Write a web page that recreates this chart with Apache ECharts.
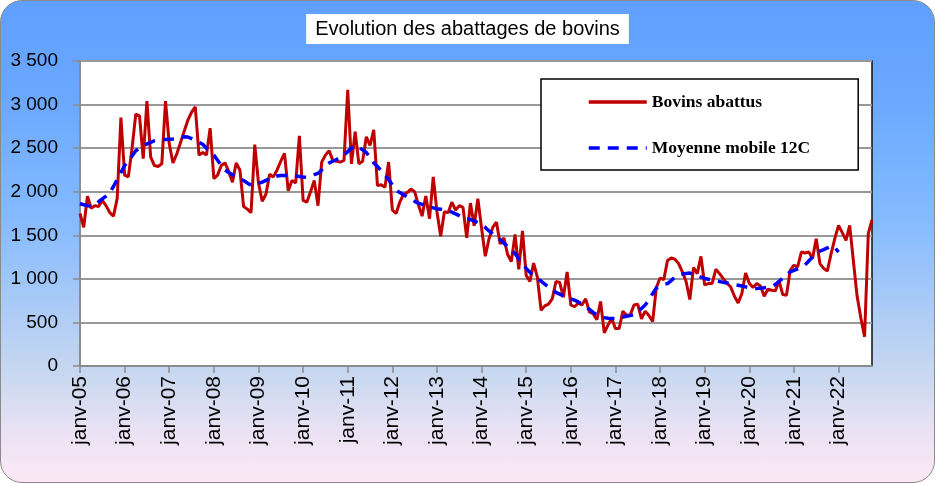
<!DOCTYPE html>
<html>
<head>
<meta charset="utf-8">
<script src="https://cdn.jsdelivr.net/npm/echarts@6/dist/echarts.min.js"></script>
<style>
  html, body { margin: 0; padding: 0; background: #ffffff; }
  #frame {
    position: absolute; left: 0; top: 0; width: 933px; height: 481px;
    border: 1px solid #8a8a8a; border-radius: 22px; overflow: hidden;
    background: linear-gradient(to bottom, #5f9fff 0%, #6aa8ff 20%, #84baff 45%, #c9d8f0 78%, #ece2f4 90%, #fbe7f6 100%);
  }
  #chart { position: absolute; left: 0; top: 0; width: 935px; height: 483px; }
</style>
</head>
<body>
<div id="frame"></div>
<div id="chart"></div>
<script>
// ---- Data (monthly slaughter of cattle, janv-2005 .. oct-2022) ----
const monthNames = ['janv', 'févr', 'mars', 'avr', 'mai', 'juin', 'juil', 'août', 'sept', 'oct', 'nov', 'déc'];
const firstYear = 2005;

const abattus2005 = [1750, 1590, 1950, 1810, 1840, 1830, 1900, 1840, 1760, 1720, 1920, 2850];
const abattus2006 = [2190, 2170, 2500, 2890, 2870, 2380, 3040, 2400, 2300, 2290, 2320, 3040];
const abattus2007 = [2550, 2330, 2430, 2560, 2690, 2820, 2910, 2975, 2420, 2450, 2420, 2730];
const abattus2008 = [2150, 2190, 2300, 2330, 2230, 2110, 2330, 2250, 1830, 1800, 1760, 2540];
const abattus2009 = [2100, 1890, 1970, 2200, 2170, 2250, 2350, 2440, 2010, 2130, 2100, 2640];
const abattus2010 = [1900, 1880, 2000, 2130, 1840, 2340, 2420, 2470, 2360, 2350, 2340, 2360];
const abattus2011 = [3170, 2320, 2690, 2320, 2350, 2630, 2530, 2710, 2070, 2080, 2050, 2340];
const abattus2012 = [1790, 1750, 1880, 1970, 1990, 2030, 2000, 1850, 1720, 1950, 1690, 2170];
const abattus2013 = [1770, 1490, 1770, 1760, 1880, 1790, 1840, 1820, 1470, 1870, 1610, 1920];
const abattus2014 = [1580, 1260, 1460, 1590, 1650, 1400, 1470, 1280, 1200, 1510, 1110, 1550];
const abattus2015 = [1040, 970, 1180, 1020, 640, 690, 710, 770, 970, 960, 790, 1080];
const abattus2016 = [700, 680, 720, 700, 770, 620, 600, 530, 740, 380, 470, 545];
const abattus2017 = [431, 431, 630, 580, 590, 700, 710, 540, 630, 580, 510, 900];
const abattus2018 = [1010, 990, 1210, 1240, 1225, 1175, 1080, 970, 763, 1129, 1060, 1258];
const abattus2019 = [930, 946, 946, 1110, 1060, 1003, 950, 907, 800, 724, 831, 1067];
const abattus2020 = [950, 900, 946, 917, 801, 881, 869, 862, 976, 820, 812, 1098];
const abattus2021 = [1156, 1137, 1308, 1296, 1308, 1232, 1461, 1175, 1120, 1091, 1289, 1461];
const abattus2022 = [1613, 1530, 1442, 1613, 1200, 800, 550, 335, 1518, 1678];

const moyenne2005 = [1865, 1850, 1840, 1834, 1850, 1885, 1918, 1950, 1990, 2060, 2140, 2220];
const moyenne2006 = [2300, 2357, 2410, 2470, 2500, 2525, 2548, 2565, 2585, 2595, 2600, 2600];
const moyenne2007 = [2603, 2605, 2612, 2620, 2630, 2628, 2610, 2590, 2565, 2545, 2500, 2460];
const moyenne2008 = [2420, 2360, 2300, 2250, 2220, 2195, 2170, 2145, 2128, 2100, 2075, 2080];
const moyenne2009 = [2095, 2110, 2130, 2150, 2170, 2180, 2185, 2185, 2185, 2185, 2180, 2175];
const moyenne2010 = [2170, 2166, 2175, 2195, 2210, 2250, 2300, 2330, 2350, 2370, 2390, 2420];
const moyenne2011 = [2460, 2500, 2528, 2510, 2480, 2450, 2390, 2330, 2290, 2240, 2190, 2140];
const moyenne2012 = [2080, 2020, 1990, 1965, 1940, 1915, 1890, 1870, 1855, 1840, 1825, 1815];
const moyenne2013 = [1805, 1800, 1790, 1780, 1765, 1745, 1725, 1705, 1695, 1680, 1665, 1645];
const moyenne2014 = [1625, 1590, 1550, 1515, 1480, 1450, 1410, 1370, 1330, 1290, 1230, 1175];
const moyenne2015 = [1120, 1075, 1035, 1003, 975, 940, 907, 880, 845, 825, 805, 790];
const moyenne2016 = [770, 755, 735, 712, 685, 650, 615, 585, 565, 555, 548, 545];
const moyenne2017 = [547, 553, 562, 570, 578, 590, 620, 660, 700, 755, 830, 895];
const moyenne2018 = [920, 935, 946, 980, 1020, 1045, 1055, 1062, 1067, 1050, 1035, 1020];
const moyenne2019 = [1005, 995, 985, 976, 970, 960, 952, 944, 935, 927, 918, 908];
const moyenne2020 = [897, 889, 890, 893, 897, 902, 907, 935, 970, 1010, 1045, 1080];
const moyenne2021 = [1098, 1115, 1138, 1160, 1205, 1250, 1290, 1318, 1335, 1355, 1378, 1360];
const moyenne2022 = [1308];

const yTicks = [0, 500, 1000, 1500, 2000, 2500, 3000, 3500];
const seriesNames = ['Bovins abattus', 'Moyenne mobile 12C'];
const chartTitle = 'Evolution des abattages de bovins';

// ---- Build ----
const abattus = [].concat(abattus2005, abattus2006, abattus2007, abattus2008, abattus2009, abattus2010,
  abattus2011, abattus2012, abattus2013, abattus2014, abattus2015, abattus2016, abattus2017,
  abattus2018, abattus2019, abattus2020, abattus2021, abattus2022);
const moyenne = [].concat(moyenne2005, moyenne2006, moyenne2007, moyenne2008, moyenne2009, moyenne2010,
  moyenne2011, moyenne2012, moyenne2013, moyenne2014, moyenne2015, moyenne2016, moyenne2017,
  moyenne2018, moyenne2019, moyenne2020, moyenne2021, moyenne2022);
const categories = abattus.map(function (v, i) {
  const y = firstYear + Math.floor(i / 12);
  return monthNames[i % 12] + '-' + String(y % 100).padStart(2, '0');
});

function fmt(v) {
  return String(v).replace(/\B(?=(\d{3})+(?!\d))/g, ' ');
}
const isJan = function (i) { return i % 12 === 0; };

const chart = echarts.init(document.getElementById('chart'), null, { renderer: 'canvas' });
chart.setOption({
  backgroundColor: 'transparent',
  animation: false,
  title: {
    text: chartTitle,
    left: 'center',
    top: 14,
    backgroundColor: '#ffffff',
    padding: [5, 9, 5, 9],
    textStyle: { fontFamily: 'Liberation Sans', fontSize: 20, fontWeight: 'normal', color: '#000' }
  },
  legend: {
    data: seriesNames,
    orient: 'vertical',
    left: 541,
    top: 79,
    padding: [14, 48, 13, 46],
    itemGap: 28,
    itemWidth: 58,
    itemHeight: 14,
    backgroundColor: '#ffffff',
    borderColor: '#000000',
    borderWidth: 1.5,
    borderRadius: 0,
    itemStyle: { opacity: 0, color: 'transparent', borderWidth: 0 },
    lineStyle: { width: 3.5 },
    textStyle: { fontFamily: 'Liberation Serif', fontWeight: 'bold', fontSize: 17.5, color: '#000' }
  },
  grid: {
    left: 80, right: 63, top: 61, bottom: 117,
    show: true, backgroundColor: '#ffffff', borderColor: '#111111', borderWidth: 1.5,
    containLabel: false
  },
  xAxis: {
    type: 'category',
    data: categories,
    boundaryGap: false,
    axisLine: { lineStyle: { color: '#8c8c8c', width: 2 } },
    axisTick: { show: true, interval: isJan, length: 7, lineStyle: { color: '#8c8c8c', width: 1.5 } },
    axisLabel: {
      interval: isJan, rotate: 90, margin: 10,
      fontFamily: 'Liberation Sans', fontSize: 21, color: '#000'
    },
    splitLine: { show: false }
  },
  yAxis: {
    type: 'value',
    min: yTicks[0], max: yTicks[yTicks.length - 1], interval: 500,
    axisLine: { show: true, lineStyle: { color: '#8c8c8c', width: 2 } },
    axisTick: { show: true, length: 7, lineStyle: { color: '#8c8c8c', width: 1.5 } },
    axisLabel: { margin: 22, fontFamily: 'Liberation Sans', fontSize: 19, color: '#000', formatter: fmt },
    splitLine: { show: true, lineStyle: { color: '#999999', width: 2 } }
  },
  series: [
    {
      name: seriesNames[0], type: 'line', data: abattus, symbol: 'none', z: 3,
      lineStyle: { color: '#c00000', width: 3 }, itemStyle: { color: '#c00000' }
    },
    {
      name: seriesNames[1], type: 'line', data: moyenne, symbol: 'none', z: 4, smooth: false,
      lineStyle: { color: '#0000ff', width: 3.5, type: [11, 8] }, itemStyle: { color: '#0000ff' }
    }
  ]
});
</script>
</body>
</html>
